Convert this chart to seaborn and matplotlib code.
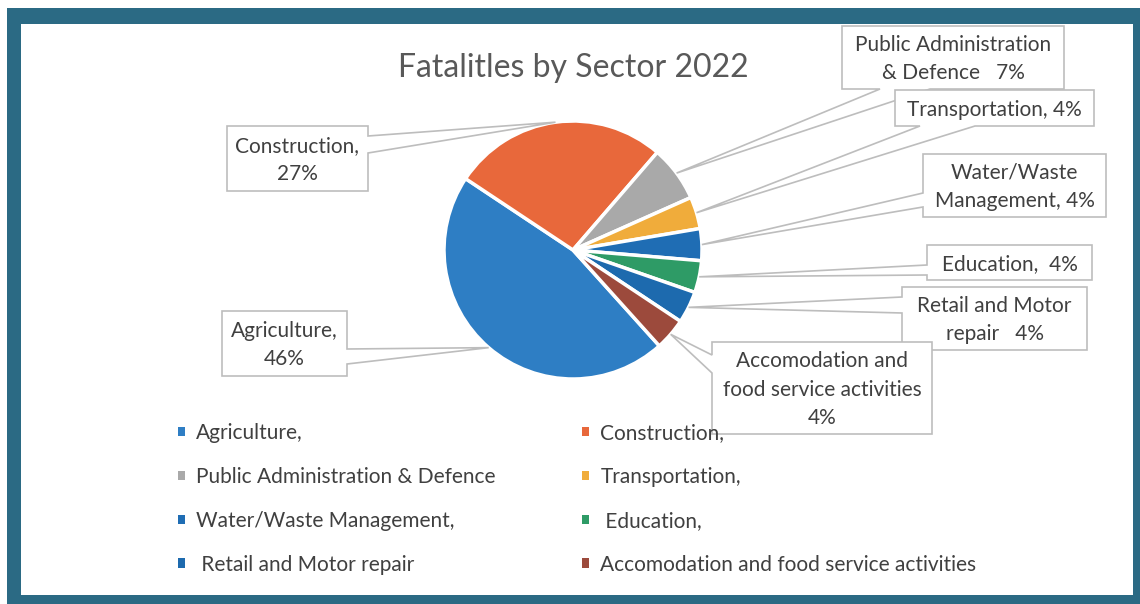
import matplotlib
matplotlib.use("Agg")
import matplotlib.pyplot as plt
import seaborn as sns
import numpy as np
from matplotlib.patches import Polygon, Rectangle, Patch

# data
sectors = ["Agriculture", "Construction", "Public Administration & Defence",
           "Transportation", "Water/Waste Management", "Education",
           "Retail and Motor repair", "Accomodation and food service activities"]
shares = [46, 27, 7, 4, 4, 4, 4, 4]
legend_labels = ["Agriculture,", "Construction,", "Public Administration & Defence",
                 "Transportation,", "Water/Waste Management,", " Education,",
                 " Retail and Motor repair", "Accomodation and food service activities"]
callout_fmt = ["Agriculture,\n{}%", "Construction,\n{}%", "Public Administration\n& Defence   {}%",
               "Transportation, {}%", "Water/Waste\nManagement, {}%", "Education,  {}%",
               "Retail and Motor\nrepair   {}%", "Accomodation and\nfood service activities\n{}%"]
colors = ["#2E7EC4", "#E8683B", "#A9A9A9", "#F0AC3B", "#1F6DB4", "#2E9B66", "#1D6AAE", "#9C4A3C"]

sns.set_theme(style="white")
plt.rcParams['font.family'] = ['Lato', 'DejaVu Sans']

W, H = 1140, 604
fig = plt.figure(figsize=(W / 100, H / 100), dpi=100)
ax = fig.add_axes([0, 0, 1, 1])

def py(y):
    return H - y

# teal frame of the scanned chart
ax.add_patch(Rectangle((7, py(604)), W - 7, 604 - 8, facecolor="#2B6A84", edgecolor="none", zorder=0))
ax.add_patch(Rectangle((21, py(595)), 1133 - 21, 595 - 24, facecolor="white", edgecolor="none", zorder=0))

wedges, _ = ax.pie(shares, colors=colors, startangle=-48, counterclock=False,
                   center=(573, py(250)), radius=129,
                   wedgeprops=dict(edgecolor="white", linewidth=2.5))

ax.set_xlim(0, W)
ax.set_ylim(0, H)
ax.set_aspect("equal")
ax.axis("off")

ax.text(573, py(68), "Fatalitles by Sector 2022", ha="center", va="center",
        fontsize=23, color="#595959")

# callout boxes: (x0, y0, x1, y1), side of the pointer, two base positions along that side
boxes = [
    ((222, 311, 347, 376), "right", (349, 364)),
    ((227, 126, 368, 191), "right", (136, 153)),
    ((842, 26, 1064, 89), "bottom", (880, 930)),
    ((895, 90, 1094, 126), "bottom", (920, 975)),
    ((923, 154, 1106, 217), "left", (193, 207)),
    ((927, 245, 1092, 280), "left", (265, 275)),
    ((902, 287, 1087, 350), "left", (297, 313)),
    ((712, 342, 932, 434), "left", (355, 373)),
]

for i, (w, (box, side, base)) in enumerate(zip(wedges, boxes)):
    mid = np.deg2rad((w.theta1 + w.theta2) / 2)
    cx, cy = w.center
    tip = (cx + w.r * np.cos(mid), cy + w.r * np.sin(mid))
    x0, y0, x1, y1 = box
    a, b = base
    if side == "right":
        pts = [(x0, y0), (x1, y0), (x1, a), "tip", (x1, b), (x1, y1), (x0, y1)]
    elif side == "left":
        pts = [(x0, y0), (x1, y0), (x1, y1), (x0, y1), (x0, b), "tip", (x0, a)]
    else:
        pts = [(x0, y0), (x1, y0), (x1, y1), (b, y1), "tip", (a, y1), (x0, y1)]
    poly = [tip if p == "tip" else (p[0], py(p[1])) for p in pts]
    ax.add_patch(Polygon(poly, closed=True, facecolor="white", edgecolor="#BDBDBD",
                         linewidth=1.2, zorder=3 + i * 0.1))
    ax.text((x0 + x1) / 2, py((y0 + y1) / 2 + 1.5), callout_fmt[i].format(shares[i]),
            ha="center", va="center", fontsize=15, color="#404040",
            linespacing=1.55, zorder=4 + i * 0.1)

# legend, filled row by row like the original
order = [0, 2, 4, 6, 1, 3, 5, 7]
handles = [Patch(facecolor=colors[k], edgecolor="none") for k in order]
labels = [legend_labels[k] for k in order]
fig.legend(handles, labels, ncol=2, loc="upper left",
           bbox_to_anchor=(178 / W, 1 - 423 / H), frameon=False,
           fontsize=15, labelcolor="#404040", handlelength=0.35, handleheight=0.35,
           handletextpad=0.53, columnspacing=4.14, labelspacing=1.15,
           borderpad=0, borderaxespad=0)

fig.savefig("out.png", dpi=100, facecolor="white")
